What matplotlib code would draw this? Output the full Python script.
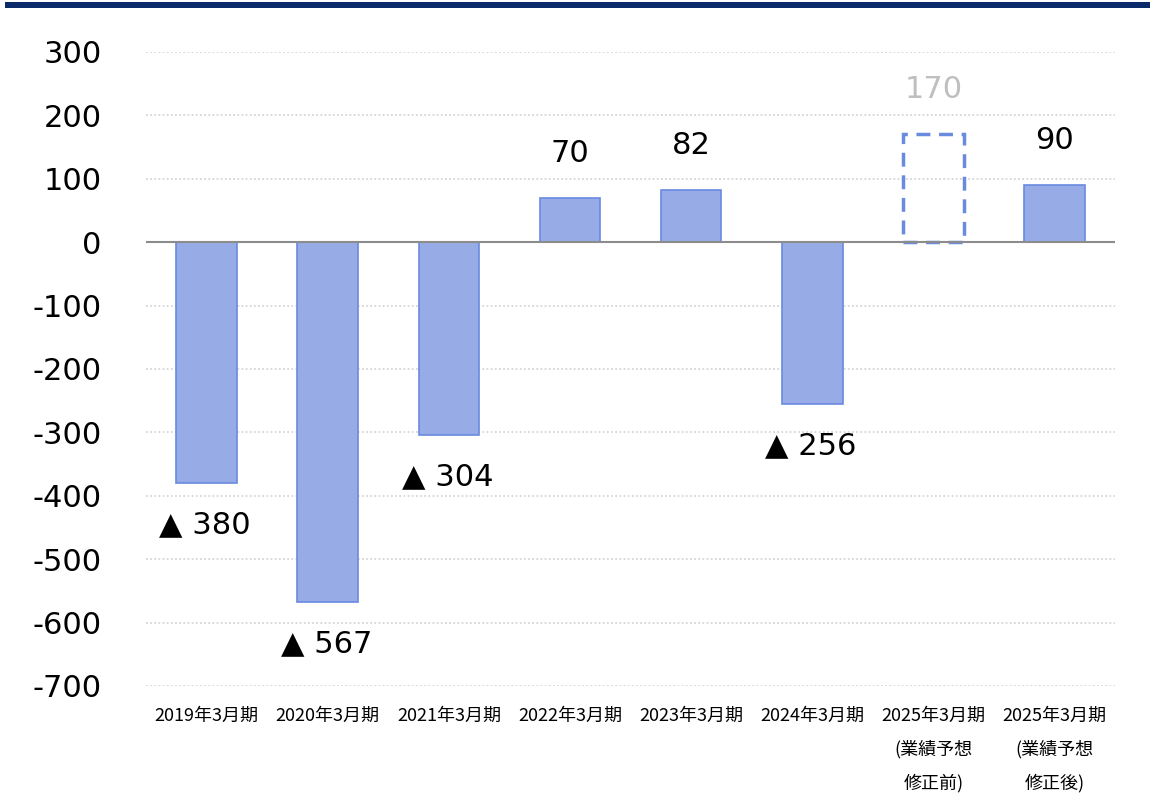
import matplotlib.pyplot as plt
from matplotlib.patches import Rectangle

categories = ['2019年3月期', '2020年3月期', '2021年3月期', '2022年3月期',
              '2023年3月期', '2024年3月期', '2025年3月期\n(業績予想\n修正前)',
              '2025年3月期\n(業績予想\n修正後)']
values = [-380, -567, -304, 70, 82, -256, 170, 90]
is_forecast_before = [False, False, False, False, False, False, True, False]
yticks = [300, 200, 100, 0, -100, -200, -300, -400, -500, -600, -700]

bar_fill = '#97acE6'
bar_edge = '#6a8ae0'

fig = plt.figure(figsize=(11.5, 7.97), dpi=100)
ax = fig.add_axes([0.127, 0.1393, 0.8426, 0.7955])

x = list(range(len(categories)))
for i, v in enumerate(values):
    if is_forecast_before[i]:
        ax.bar(i, v, width=0.5, facecolor='none', edgecolor=bar_edge,
               linewidth=2.5, linestyle=(0, (4, 2.5)), zorder=3)
    else:
        ax.bar(i, v, width=0.5, facecolor=bar_fill, edgecolor=bar_edge,
               linewidth=1.2, zorder=3)

# data labels
for i, v in enumerate(values):
    color = '#bfbfbf' if is_forecast_before[i] else 'black'
    if v >= 0:
        ax.annotate(f'{v}', (i, v), xytext=(0, 32), textcoords='offset points',
                    ha='center', va='center', fontsize=22, color=color,
                    family='DejaVu Sans')
    else:
        ax.annotate(f'▲ {abs(v)}', (i, v), xytext=(-1, -30), textcoords='offset points',
                    ha='center', va='center', fontsize=22, color=color,
                    family='DejaVu Sans')

ax.set_xlim(-0.5, len(categories) - 0.5)
ax.set_ylim(-700, 300)
ax.set_yticks(yticks)
ax.set_yticklabels([str(t) for t in yticks], fontsize=22, family='DejaVu Sans')
ax.tick_params(axis='y', length=0, pad=32)
ax.set_xticks(x)
ax.set_xticklabels(categories, fontsize=13, family=['Noto Sans CJK JP', 'DejaVu Sans'],
                   linespacing=2.05, va='top')
ax.tick_params(axis='x', length=0, pad=15)

for t in yticks:
    if t != 0:
        ax.axhline(t, color='#d6d6d6', linewidth=1.3, linestyle=(0, (1, 1.3)), zorder=1)
ax.axhline(0, color='#8c8c8c', linewidth=1.5, zorder=4)

for s in ax.spines.values():
    s.set_visible(False)

# navy band at the top
fig.add_artist(Rectangle((5 / 1150, 1 - 8 / 797), 1 - 5 / 1150, 6 / 797,
                         transform=fig.transFigure, facecolor='#0b2a6a',
                         edgecolor='none'))

fig.savefig('out.png', dpi=100)
